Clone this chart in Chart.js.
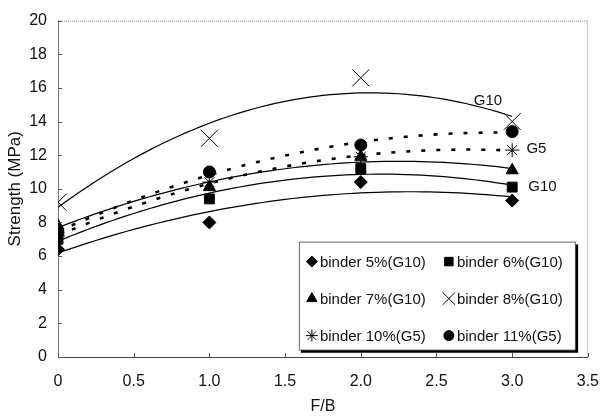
<!DOCTYPE html>
<html>
<head>
<meta charset="utf-8">
<script src="https://cdn.jsdelivr.net/npm/chart.js@4/dist/chart.umd.min.js"></script>
<style>
  html, body { margin: 0; padding: 0; background: #fff; }
  #wrap { width: 614px; height: 419px; }
</style>
</head>
<body>
<div id="wrap"><canvas id="graf"></canvas></div>
<script>
// F/B ratio on the horizontal axis
var fb = [0, 1, 2, 3];
// strength (MPa) per binder content
var binder5 = [6.4, 8.0, 10.4, 9.3];
var binder6 = [7.0, 9.4, 11.2, 10.1];
var binder7 = [7.8, 10.1, 11.9, 11.1];
var binder8 = [9.2, 13.0, 16.6, 14.0];
var binder10 = [7.2, 10.4, 11.9, 12.3];
var binder11 = [7.4, 11.0, 12.6, 13.4];
var nomes = ['binder 5%(G10)', 'binder 6%(G10)', 'binder 7%(G10)', 'binder 8%(G10)', 'binder 10%(G5)', 'binder 11%(G5)'];
var yTicks = [0, 2, 4, 6, 8, 10, 12, 14, 16, 18, 20];
var xTicks = [0, 0.5, 1, 1.5, 2, 2.5, 3, 3.5];
// trend line labels
var rotulos = [
  { text: 'G10', x: 2.84, y: 15.2 },
  { text: 'G5', x: 3.16, y: 12.4 },
  { text: 'G10', x: 3.2, y: 10.1 }
];

var FONT = "'Liberation Sans', Arial, sans-serif";

// 2nd order least squares (same as the excel trendline)
function poly2(xs, ys) {
  var n = xs.length, s1 = 0, s2 = 0, s3 = 0, s4 = 0, t0 = 0, t1 = 0, t2 = 0;
  for (var i = 0; i < n; i++) {
    var x = xs[i], y = ys[i];
    s1 += x; s2 += x * x; s3 += x * x * x; s4 += x * x * x * x;
    t0 += y; t1 += x * y; t2 += x * x * y;
  }
  var m = [[n, s1, s2, t0], [s1, s2, s3, t1], [s2, s3, s4, t2]];
  for (var c = 0; c < 3; c++) {
    for (var r = c + 1; r < 3; r++) {
      var f = m[r][c] / m[c][c];
      for (var k = c; k < 4; k++) m[r][k] -= f * m[c][k];
    }
  }
  var sol = [0, 0, 0];
  for (var r2 = 2; r2 >= 0; r2--) {
    var v = m[r2][3];
    for (var k2 = r2 + 1; k2 < 3; k2++) v -= m[r2][k2] * sol[k2];
    sol[r2] = v / m[r2][r2];
  }
  return function (x) { return sol[0] + sol[1] * x + sol[2] * x * x; };
}

function pontos(ys) {
  return fb.map(function (x, i) { return { x: x, y: ys[i] }; });
}
function tendencia(ys) {
  var f = poly2(fb, ys);
  var out = [];
  for (var i = 0; i <= 60; i++) {
    var x = fb[0] + (fb[fb.length - 1] - fb[0]) * i / 60;
    out.push({ x: x, y: f(x) });
  }
  return out;
}

var series = [binder5, binder6, binder7, binder8, binder10, binder11];
var estilos = [
  { pointStyle: 'rectRot', radius: 6.5, borderWidth: 1 },
  { pointStyle: 'rect', radius: 7, borderWidth: 1 },
  { pointStyle: 'triangle', radius: 7, borderWidth: 1 },
  { pointStyle: 'crossRot', radius: 12, borderWidth: 1 },
  { pointStyle: 'star', radius: 7, borderWidth: 1 },
  { pointStyle: 'circle', radius: 6, borderWidth: 1 }
];
var tracejado = [false, false, false, false, true, true];

var datasets = [];
series.forEach(function (ys, i) {
  datasets.push({
    label: nomes[i],
    data: pontos(ys),
    showLine: false,
    pointStyle: estilos[i].pointStyle,
    pointRadius: estilos[i].radius,
    pointBorderWidth: estilos[i].borderWidth,
    pointBackgroundColor: '#000',
    pointBorderColor: '#000',
    order: 0
  });
});
series.forEach(function (ys, i) {
  datasets.push({
    label: 'trend ' + nomes[i],
    data: tendencia(ys),
    showLine: true,
    pointRadius: 0,
    borderColor: '#000',
    borderWidth: tracejado[i] ? 2.6 : 1.2,
    borderDash: tracejado[i] ? [4, 11] : [],
    fill: false,
    order: 1
  });
});

// legend box, border, inner ticks and trend labels
var extras = {
  id: 'extras',
  afterDraw: function (chart) {
    var ctx = chart.ctx;
    var a = chart.chartArea;
    var xs = chart.scales.x, ys = chart.scales.y;
    ctx.save();
    // dotted frame top / right
    ctx.strokeStyle = '#888';
    ctx.lineWidth = 1;
    ctx.setLineDash([1, 1]);
    ctx.beginPath();
    ctx.moveTo(a.left, a.top + 0.5); ctx.lineTo(a.right, a.top + 0.5);
    ctx.moveTo(a.right - 0.5, a.top); ctx.lineTo(a.right - 0.5, a.bottom);
    ctx.stroke();
    ctx.setLineDash([]);
    // inner tick marks
    ctx.strokeStyle = '#555';
    ctx.beginPath();
    yTicks.forEach(function (v) {
      var py = Math.round(ys.getPixelForValue(v)) + 0.5;
      ctx.moveTo(a.left, py); ctx.lineTo(a.left + 4, py);
    });
    xTicks.forEach(function (v) {
      var px = Math.round(xs.getPixelForValue(v)) + 0.5;
      ctx.moveTo(px, a.bottom); ctx.lineTo(px, a.bottom - 4);
    });
    ctx.stroke();

    // trend labels
    ctx.fillStyle = '#111';
    ctx.font = '15px ' + FONT;
    ctx.textAlign = 'center';
    ctx.textBaseline = 'middle';
    rotulos.forEach(function (r) {
      ctx.fillText(r.text, xs.getPixelForValue(r.x), ys.getPixelForValue(r.y));
    });

    // legend
    var bx = a.right - 289, by = a.top + 221, bw = 276, bh = 108;
    ctx.fillStyle = '#fff';
    ctx.fillRect(bx, by, bw, bh);
    ctx.strokeStyle = '#666';
    ctx.lineWidth = 1;
    ctx.strokeRect(bx + 0.5, by + 0.5, bw, bh);
    ctx.strokeStyle = '#000';
    ctx.lineWidth = 2.5;
    ctx.beginPath();
    ctx.moveTo(bx + 2, by + bh + 2); ctx.lineTo(bx + bw + 2, by + bh + 2); ctx.lineTo(bx + bw + 2, by + 3);
    ctx.stroke();
    ctx.textAlign = 'left';
    ctx.font = '15px ' + FONT;
    for (var i = 0; i < nomes.length; i++) {
      var col = i % 2, row = Math.floor(i / 2);
      var mx = bx + 13 + col * 137;
      var my = by + 20 + row * 37;
      ctx.fillStyle = '#000';
      ctx.strokeStyle = '#000';
      ctx.lineWidth = 1;
      var st = estilos[i];
      var rad = st.pointStyle === 'crossRot' ? 9 : (st.pointStyle === 'star' ? 6 : st.radius - 1);
      Chart.helpers.drawPoint(ctx, { pointStyle: st.pointStyle, radius: rad, borderWidth: 1, rotation: 0 }, mx, my);
      ctx.fillStyle = '#111';
      ctx.fillText(nomes[i], mx + 8, my + 1);
    }
    ctx.restore();
  }
};

var ctx = document.getElementById('graf');
var graf = new Chart(ctx, {
  type: 'scatter',
  data: { datasets: datasets },
  options: {
    responsive: true,
    maintainAspectRatio: false,
    animation: false,
    layout: { padding: { top: 12, right: 15, left: 0, bottom: 0 } },
    plugins: {
      legend: { display: false },
      tooltip: { enabled: false }
    },
    scales: {
      x: {
        type: 'linear',
        min: 0, max: 3.5,
        afterBuildTicks: function (s) { s.ticks = xTicks.map(function (v) { return { value: v }; }); },
        afterFit: function (s) { s.height = 62; },
        grid: { display: false, drawTicks: false },
        border: { display: true, color: '#444', width: 1 },
        ticks: {
          color: '#111',
          font: { family: FONT, size: 16 },
          padding: 15,
          maxRotation: 0
        },
        title: {
          display: true,
          text: 'F/B',
          color: '#111',
          font: { family: FONT, size: 16 },
          padding: { top: 0, bottom: 3 }
        }
      },
      y: {
        type: 'linear',
        min: 0, max: 20,
        afterBuildTicks: function (s) { s.ticks = yTicks.map(function (v) { return { value: v }; }); },
        afterFit: function (s) { s.width = 58; },
        grid: { display: false, drawTicks: false },
        border: { display: true, color: '#777', width: 1, dash: [1, 1] },
        ticks: {
          color: '#111',
          font: { family: FONT, size: 16 },
          padding: 11
        },
        title: {
          display: true,
          text: 'Strength (MPa)',
          color: '#111',
          font: { family: FONT, size: 17 },
          padding: { top: 5, bottom: 0 }
        }
      }
    }
  },
  plugins: [extras]
});
</script>
</body>
</html>
